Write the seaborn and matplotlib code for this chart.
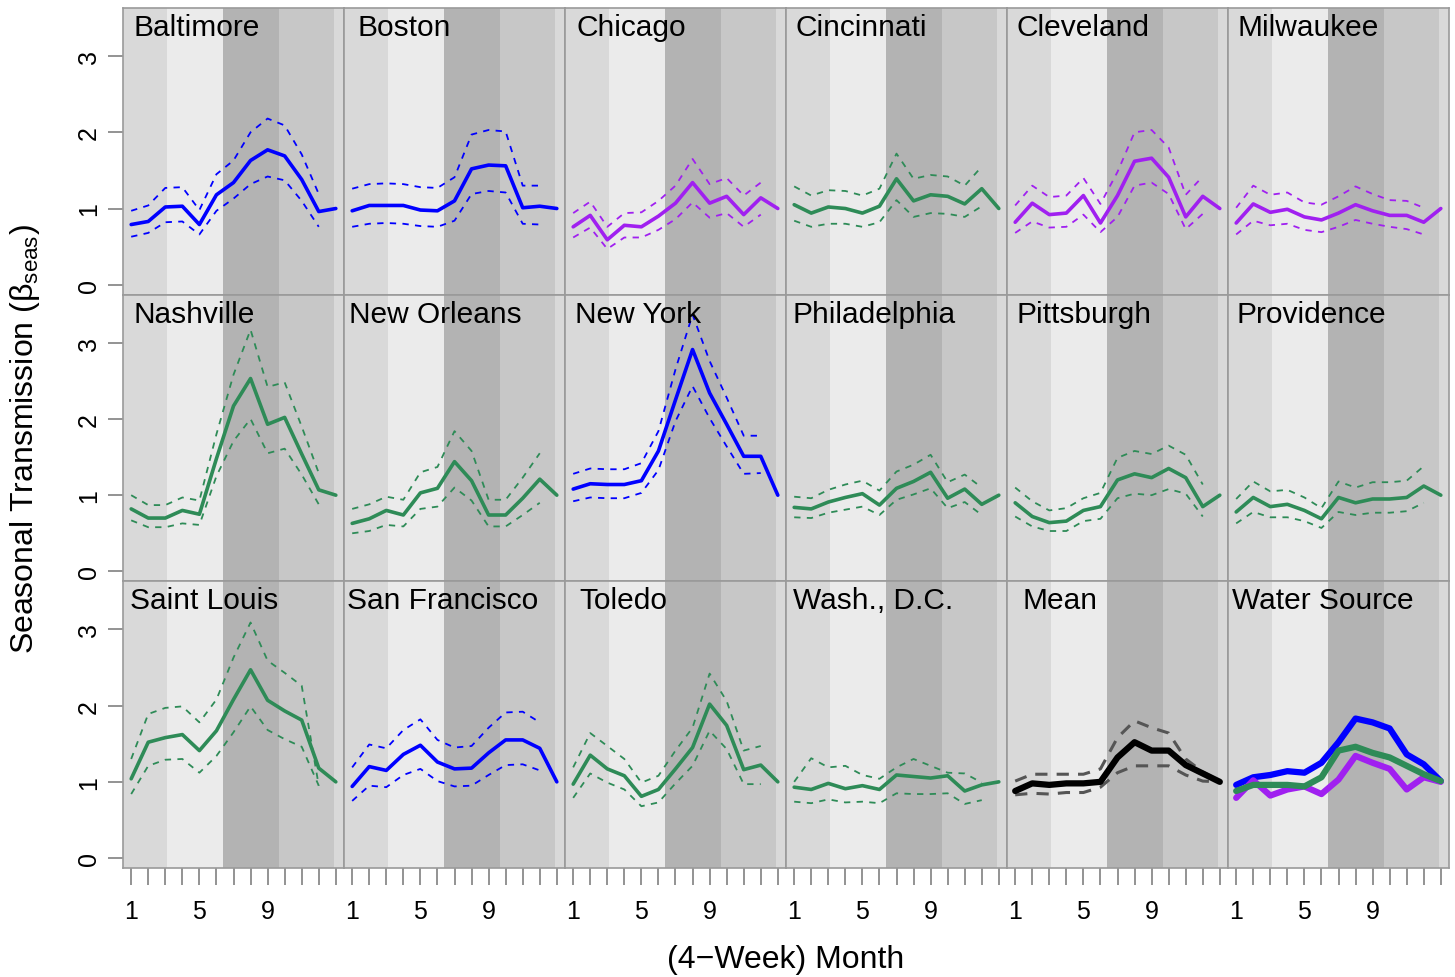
# -*- coding: utf-8 -*-
# seasonal transmission by city, 3x6 small multiples
import seaborn as sns
import pandas as pd
import numpy as np
import matplotlib.pyplot as plt

#%% data
months = list(range(1, 14))
ci_months = list(range(1, 13))

baltimore = [0.79, 0.83, 1.02, 1.03, 0.79, 1.18, 1.34, 1.63, 1.77, 1.69, 1.38, 0.96, 1.00]
baltimore_hi = [0.97, 1.04, 1.27, 1.28, 0.98, 1.45, 1.63, 2.00, 2.18, 2.09, 1.71, 1.19]
baltimore_lo = [0.63, 0.68, 0.82, 0.83, 0.66, 0.97, 1.13, 1.32, 1.42, 1.37, 1.10, 0.76]

boston = [0.97, 1.04, 1.04, 1.04, 0.98, 0.97, 1.10, 1.52, 1.57, 1.56, 1.01, 1.03, 1.00]
boston_hi = [1.26, 1.32, 1.33, 1.32, 1.28, 1.27, 1.41, 1.97, 2.03, 2.01, 1.30, 1.30]
boston_lo = [0.76, 0.80, 0.81, 0.80, 0.77, 0.76, 0.84, 1.19, 1.23, 1.21, 0.80, 0.79]

chicago = [0.76, 0.91, 0.59, 0.78, 0.76, 0.90, 1.07, 1.34, 1.07, 1.16, 0.92, 1.14, 1.00]
chicago_hi = [0.94, 1.09, 0.76, 0.94, 0.95, 1.10, 1.30, 1.65, 1.32, 1.40, 1.17, 1.34]
chicago_lo = [0.62, 0.75, 0.47, 0.62, 0.62, 0.72, 0.86, 1.08, 0.88, 0.94, 0.76, 0.92]

cincinnati = [1.05, 0.94, 1.02, 1.00, 0.94, 1.03, 1.39, 1.10, 1.18, 1.16, 1.06, 1.26, 1.00]
cincinnati_hi = [1.29, 1.17, 1.24, 1.23, 1.17, 1.26, 1.72, 1.39, 1.44, 1.42, 1.30, 1.55]
cincinnati_lo = [0.84, 0.76, 0.80, 0.80, 0.76, 0.82, 1.11, 0.89, 0.94, 0.93, 0.89, 1.03]

cleveland = [0.82, 1.07, 0.92, 0.94, 1.17, 0.81, 1.17, 1.62, 1.66, 1.41, 0.89, 1.16, 1.00]
cleveland_hi = [1.04, 1.30, 1.15, 1.17, 1.40, 1.06, 1.48, 2.00, 2.03, 1.80, 1.18, 1.42]
cleveland_lo = [0.68, 0.83, 0.75, 0.76, 0.92, 0.69, 0.89, 1.30, 1.34, 1.19, 0.73, 0.93]

milwaukee = [0.81, 1.06, 0.95, 0.99, 0.89, 0.85, 0.94, 1.05, 0.97, 0.91, 0.91, 0.82, 1.00]
milwaukee_hi = [1.01, 1.30, 1.18, 1.21, 1.08, 1.05, 1.16, 1.29, 1.19, 1.11, 1.10, 1.01]
milwaukee_lo = [0.66, 0.84, 0.78, 0.80, 0.72, 0.69, 0.76, 0.85, 0.80, 0.76, 0.73, 0.66]

nashville = [0.82, 0.70, 0.70, 0.80, 0.75, 1.48, 2.17, 2.53, 1.93, 2.02, 1.54, 1.07, 1.00]
nashville_hi = [1.00, 0.87, 0.87, 0.97, 0.93, 1.80, 2.58, 3.17, 2.42, 2.48, 1.90, 1.29]
nashville_lo = [0.67, 0.58, 0.58, 0.63, 0.61, 1.25, 1.71, 2.00, 1.55, 1.61, 1.27, 0.88]

new_orleans = [0.63, 0.69, 0.80, 0.74, 1.03, 1.09, 1.44, 1.19, 0.74, 0.74, 0.96, 1.21, 1.00]
new_orleans_hi = [0.82, 0.88, 0.98, 0.94, 1.30, 1.37, 1.84, 1.58, 0.94, 0.94, 1.23, 1.55]
new_orleans_lo = [0.50, 0.53, 0.61, 0.59, 0.82, 0.85, 1.10, 0.93, 0.59, 0.59, 0.74, 0.90]

new_york = [1.08, 1.15, 1.14, 1.14, 1.19, 1.58, 2.25, 2.91, 2.34, 1.93, 1.51, 1.51, 1.00]
new_york_hi = [1.28, 1.35, 1.34, 1.34, 1.42, 1.84, 2.65, 3.37, 2.76, 2.28, 1.78, 1.78]
new_york_lo = [0.92, 0.97, 0.96, 0.96, 1.03, 1.33, 1.97, 2.43, 2.01, 1.64, 1.28, 1.29]

philadelphia = [0.84, 0.82, 0.91, 0.97, 1.02, 0.87, 1.09, 1.18, 1.30, 0.96, 1.08, 0.88, 1.00]
philadelphia_hi = [0.98, 0.96, 1.07, 1.14, 1.19, 1.06, 1.31, 1.40, 1.53, 1.17, 1.27, 1.10]
philadelphia_lo = [0.71, 0.70, 0.77, 0.81, 0.85, 0.74, 0.94, 1.01, 1.09, 0.83, 0.91, 0.74]

pittsburgh = [0.90, 0.72, 0.64, 0.66, 0.80, 0.85, 1.20, 1.28, 1.23, 1.35, 1.23, 0.85, 1.00]
pittsburgh_hi = [1.10, 0.92, 0.80, 0.83, 0.96, 1.03, 1.49, 1.58, 1.54, 1.65, 1.53, 1.14]
pittsburgh_lo = [0.72, 0.59, 0.53, 0.53, 0.66, 0.69, 0.96, 1.02, 1.00, 1.08, 1.02, 0.72]

providence = [0.78, 0.97, 0.85, 0.88, 0.80, 0.69, 0.97, 0.90, 0.95, 0.95, 0.97, 1.12, 1.00]
providence_hi = [0.95, 1.18, 1.05, 1.07, 0.97, 0.83, 1.18, 1.10, 1.17, 1.17, 1.19, 1.38]
providence_lo = [0.63, 0.78, 0.71, 0.71, 0.66, 0.57, 0.78, 0.74, 0.77, 0.77, 0.79, 0.90]

saint_louis = [1.04, 1.52, 1.58, 1.62, 1.41, 1.67, 2.08, 2.47, 2.07, 1.93, 1.81, 1.18, 1.00]
saint_louis_hi = [1.30, 1.89, 1.97, 1.99, 1.78, 2.08, 2.63, 3.09, 2.59, 2.43, 2.26, 0.95]
saint_louis_lo = [0.84, 1.21, 1.29, 1.30, 1.12, 1.34, 1.65, 1.99, 1.68, 1.56, 1.46, 0.95]

san_francisco = [0.94, 1.20, 1.15, 1.36, 1.48, 1.26, 1.17, 1.18, 1.38, 1.55, 1.55, 1.44, 1.00]
san_francisco_hi = [1.19, 1.49, 1.44, 1.68, 1.82, 1.55, 1.45, 1.47, 1.71, 1.91, 1.92, 1.78]
san_francisco_lo = [0.75, 0.95, 0.93, 1.09, 1.17, 1.01, 0.94, 0.95, 1.09, 1.22, 1.23, 1.15]

toledo = [0.97, 1.35, 1.17, 1.08, 0.81, 0.90, 1.17, 1.45, 2.02, 1.74, 1.16, 1.22, 1.00]
toledo_hi = [1.19, 1.64, 1.47, 1.30, 0.99, 1.08, 1.41, 1.71, 2.42, 2.06, 1.41, 1.47]
toledo_lo = [0.79, 1.11, 0.99, 0.90, 0.68, 0.73, 0.98, 1.21, 1.67, 1.43, 0.97, 0.97]

wash_dc = [0.93, 0.90, 0.98, 0.91, 0.95, 0.90, 1.09, 1.07, 1.05, 1.08, 0.88, 0.96, 1.00]
wash_dc_hi = [1.00, 1.31, 1.19, 1.21, 1.09, 1.04, 1.19, 1.30, 1.21, 1.12, 1.11, 0.99]
wash_dc_lo = [0.74, 0.72, 0.77, 0.73, 0.74, 0.72, 0.85, 0.84, 0.84, 0.85, 0.71, 0.76]

overall_mean = [0.88, 0.98, 0.96, 0.98, 0.98, 1.00, 1.32, 1.52, 1.41, 1.41, 1.22, 1.11, 1.00]
overall_hi = [1.01, 1.10, 1.10, 1.10, 1.10, 1.17, 1.58, 1.80, 1.71, 1.64, 1.30, 1.13, 1.01]
overall_lo = [0.83, 0.85, 0.84, 0.86, 0.86, 0.93, 1.12, 1.21, 1.21, 1.21, 1.09, 1.01, 1.00]

water_blue = [0.96, 1.06, 1.09, 1.14, 1.12, 1.25, 1.52, 1.83, 1.78, 1.70, 1.36, 1.23, 1.01]
water_purple = [0.79, 1.02, 0.82, 0.90, 0.94, 0.84, 1.03, 1.34, 1.25, 1.17, 0.90, 1.06, 1.00]
water_green = [0.88, 0.96, 0.96, 0.96, 0.94, 1.06, 1.41, 1.46, 1.38, 1.32, 1.21, 1.10, 1.01]

city_names = ['Baltimore', 'Boston', 'Chicago', 'Cincinnati', 'Cleveland', 'Milwaukee',
              'Nashville', 'New Orleans', 'New York', 'Philadelphia', 'Pittsburgh', 'Providence',
              'Saint Louis', 'San Francisco', 'Toledo', 'Wash., D.C.']
city_source = ['blue', 'blue', 'purple', 'green', 'purple', 'purple',
               'green', 'green', 'blue', 'green', 'green', 'green',
               'green', 'blue', 'green', 'green']
city_series = [(baltimore, baltimore_hi, baltimore_lo), (boston, boston_hi, boston_lo),
               (chicago, chicago_hi, chicago_lo), (cincinnati, cincinnati_hi, cincinnati_lo),
               (cleveland, cleveland_hi, cleveland_lo), (milwaukee, milwaukee_hi, milwaukee_lo),
               (nashville, nashville_hi, nashville_lo), (new_orleans, new_orleans_hi, new_orleans_lo),
               (new_york, new_york_hi, new_york_lo), (philadelphia, philadelphia_hi, philadelphia_lo),
               (pittsburgh, pittsburgh_hi, pittsburgh_lo), (providence, providence_hi, providence_lo),
               (saint_louis, saint_louis_hi, saint_louis_lo), (san_francisco, san_francisco_hi, san_francisco_lo),
               (toledo, toledo_hi, toledo_lo), (wash_dc, wash_dc_hi, wash_dc_lo)]

#%% styling
source_colors = {'blue': '#0000FF', 'purple': '#A020F0', 'green': '#2E8B57'}
season_edges = [3.1, 6.37, 9.64, 12.91]
season_colors = ['#d9d9d9', '#ebebeb', '#b3b3b3', '#c7c7c7', '#d9d9d9']
# title x offsets in pixels from panel left
title_offsets = [10, 13, 11, 9, 9, 9, 10, 5, 10, 6, 9, 8, 7, 3, 14, 7, 15, 4]

sns.set_theme(style='white')
plt.rcParams['font.family'] = ['Liberation Sans', 'DejaVu Sans']
plt.rcParams['mathtext.fontset'] = 'custom'
plt.rcParams['mathtext.rm'] = 'Liberation Sans'
plt.rcParams['mathtext.it'] = 'Liberation Sans:italic'
plt.rcParams['lines.dashed_pattern'] = [3.5, 3.5]
plt.rcParams['lines.solid_capstyle'] = 'round'
plt.rcParams['text.color'] = 'black'

W, H = 1455, 978
fig, axes = plt.subplots(3, 6, figsize=(W / 100, H / 100), dpi=100, sharex=True, sharey=True)
fig.subplots_adjust(left=123 / W, right=1449 / W, top=1 - 9 / H, bottom=1 - 869 / H,
                    wspace=0, hspace=0)

titles = city_names + ['Mean', 'Water Source']
edges = [-5] + season_edges + [20]

for i, ax in enumerate(axes.flat):
    for k in range(5):
        ax.axvspan(edges[k], edges[k + 1], color=season_colors[k], lw=0, zorder=0)

    if i < 16:
        mean, hi, lo = city_series[i]
        col = source_colors[city_source[i]]
        sns.lineplot(x=ci_months, y=hi, ax=ax, color=col, linewidth=1.3, linestyle='--')
        sns.lineplot(x=ci_months, y=lo, ax=ax, color=col, linewidth=1.3, linestyle='--')
        sns.lineplot(x=months, y=mean, ax=ax, color=col, linewidth=2.6)
    elif i == 16:
        sns.lineplot(x=months, y=overall_hi, ax=ax, color='#555555', linewidth=2.2, linestyle='--')
        ax.lines[-1].set_dashes([4, 3])
        sns.lineplot(x=months, y=overall_lo, ax=ax, color='#555555', linewidth=2.2, linestyle='--')
        ax.lines[-1].set_dashes([4, 3])
        sns.lineplot(x=months, y=overall_mean, ax=ax, color='black', linewidth=4.5)
    else:
        sns.lineplot(x=months, y=water_blue, ax=ax, color=source_colors['blue'], linewidth=4.5)
        sns.lineplot(x=months, y=water_purple, ax=ax, color=source_colors['purple'], linewidth=4.5)
        sns.lineplot(x=months, y=water_green, ax=ax, color=source_colors['green'], linewidth=4.5)

    ax.text(title_offsets[i] / 220.5, 0.906, titles[i], transform=ax.transAxes,
            ha='left', va='baseline', fontsize=21.5, color='black')

    ax.set_xlim(0.52, 13.48)
    ax.set_ylim(-0.13, 3.63)
    ax.set_xlabel('')
    ax.set_ylabel('')
    ax.grid(False)
    for s in ax.spines.values():
        s.set_color('#9a9a9a')
        s.set_linewidth(1.2)
    ax.tick_params(left=False, bottom=False, labelleft=False, labelbottom=False)

for ax in axes[:, 0]:
    ax.set_yticks([0, 1, 2, 3])
    ax.set_yticklabels(['0', '1', '2', '3'], rotation=90, va='center')
    ax.tick_params(axis='y', left=True, labelleft=True, length=11, width=1.2,
                   color='#808080', labelcolor='black', pad=5, labelsize=18, direction='out')

for ax in axes[-1, :]:
    ax.set_xticks(months)
    ax.set_xticklabels([str(m) if m in (1, 5, 9) else '' for m in months])
    ax.tick_params(axis='x', bottom=True, labelbottom=True, length=12, width=1.2,
                   color='#808080', labelcolor='black', pad=10, labelsize=18, direction='out')

fig.text(786 / W, 1 - 960 / H, '(4\u2212Week) Month', ha='center', va='center', fontsize=23)
fig.text(25 / W, 1 - 439 / H, r'Seasonal Transmission ($\mathrm{\beta_{seas}}$)',
         rotation=90, ha='center', va='center', fontsize=23)

plt.savefig('out.png', dpi=100)
